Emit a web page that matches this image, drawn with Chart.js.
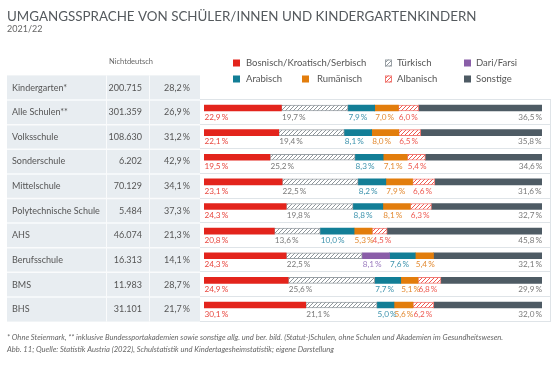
<!DOCTYPE html>
<html><head><meta charset="utf-8">
<script src="https://cdn.jsdelivr.net/npm/chart.js@4.4.1/dist/chart.umd.min.js"></script>
<style>html,body{margin:0;padding:0;background:#fff;}canvas{display:block;}</style>
</head><body>
<canvas id="c" width="560" height="366"></canvas>
<script>
// ---- data ----
const categories = ['Kindergarten*','Alle Schulen**','Volksschule','Sonderschule','Mittelschule','Polytechnische Schule','AHS','Berufsschule','BMS','BHS'];
const totals = [200715, 301359, 108630, 6202, 70129, 5484, 46074, 16313, 11983, 31101];
const nichtdeutsch = [28.2, 26.9, 31.2, 42.9, 34.1, 37.3, 21.3, 14.1, 28.7, 21.7];
const seriesNames = ['Bosnisch/Kroatisch/Serbisch','Türkisch','Dari/Farsi','Arabisch','Rumänisch','Albanisch','Sonstige'];
const bks    = [null, 22.9, 22.1, 19.5, 23.1, 24.3, 20.8, 24.3, 24.9, 30.1];
const tuerk  = [null, 19.7, 19.4, 25.2, 22.5, 19.8, 13.6, 22.5, 25.6, 21.1];
const dari   = [null, null, null, null, null, null, null, 8.1, null, null];
const arab   = [null, 7.9, 8.1, 8.3, 8.2, 8.8, 10.0, 7.6, 7.7, 5.0];
const rum    = [null, 7.0, 8.0, 7.1, 7.9, 8.1, 5.3, 5.4, 5.1, 5.6];
const alb    = [null, 6.0, 6.5, 5.4, 6.6, 6.3, 4.5, null, 6.8, 6.2];
const sonst  = [null, 36.5, 35.8, 34.6, 31.6, 32.7, 45.8, 32.1, 29.9, 32.0];
const title = 'UMGANGSSPRACHE VON SCHÜLER/INNEN UND KINDERGARTENKINDERN';
const subtitle = '2021/22';
const colHeader = 'Nichtdeutsch';
const notes = ['* Ohne Steiermark, ** inklusive Bundessportakademien sowie sonstige allg. und ber. bild. (Statut-)Schulen, ohne Schulen und Akademien im Gesundheitswesen.',
               'Abb. 11; Quelle: Statistik Austria (2022), Schulstatistik und Kindertagesheimstatistik; eigene Darstellung'];

// ---- styles ----
const FONT = 'Lato, "Open Sans", sans-serif';
const canvas = document.getElementById('c');
const ctx0 = canvas.getContext('2d');
function hatch(bg, line) {
  const c = document.createElement('canvas'); c.width = 4; c.height = 4;
  const x = c.getContext('2d');
  x.fillStyle = bg; x.fillRect(0,0,4,4);
  x.strokeStyle = line; x.lineWidth = 1;
  x.beginPath();
  x.moveTo(0,4); x.lineTo(4,0);
  x.moveTo(-1,1); x.lineTo(1,-1);
  x.moveTo(3,5); x.lineTo(5,3);
  x.stroke();
  return ctx0.createPattern(c, 'repeat');
}
const styles = [
  {bg:'#e3241c', border:'#e3241c', bw:0, text:'#e8463e'},
  {bg:hatch('#ffffff','#8f969b'), border:'#9aa1a6', bw:1, text:'#7a7a7a'},
  {bg:'#8a5ea8', border:'#8a5ea8', bw:0, text:'#9b7bbf'},
  {bg:'#127e96', border:'#127e96', bw:0, text:'#3d93ad'},
  {bg:'#e27d0c', border:'#e27d0c', bw:0, text:'#e38b33'},
  {bg:hatch('#ffffff','#ef5a52'), border:'#f07a74', bw:1, text:'#ee5a52'},
  {bg:'#4e5b64', border:'#4e5b64', bw:0, text:'#7a7a7a'}
];
const seriesData = [bks, tuerk, dari, arab, rum, alb, sonst];
// legend layout: [series index, swatch x, text x, y]
const legendLayout = [[0,233,246,63],[1,385,397,63],[2,464,476,63],[3,233,246,79],[4,302,317,79],[5,385,397,79],[6,464,476,79]];

const fmtPct = v => v.toFixed(1).replace('.', ',') + '\u2009%';
const fmtInt = n => String(n).replace(/\B(?=(\d{3})+(?!\d))/g, '.');

const ROW_SHIFT = 4.3;

const decor = {
  id: 'decor',
  beforeDatasetsDraw(chart) {
    const ctx = chart.ctx;
    const ys = chart.scales.y;
    const half = (ys.getPixelForValue(1) - ys.getPixelForValue(0)) / 2;
    ctx.save();
    // title
    ctx.fillStyle = '#555a5e';
    ctx.textBaseline = 'alphabetic';
    ctx.textAlign = 'left';
    let fs = 14;
    ctx.font = fs + 'px ' + FONT;
    fs = fs * 470 / ctx.measureText(title).width;
    ctx.font = fs + 'px ' + FONT;
    ctx.fillText(title, 7, 21);
    ctx.font = '9px ' + FONT;
    ctx.fillStyle = '#666';
    ctx.fillText(subtitle, 7, 32);
    // column header
    ctx.font = '7.5px ' + FONT;
    ctx.textAlign = 'center';
    ctx.textBaseline = 'middle';
    ctx.fillStyle = '#666';
    ctx.fillText(colHeader, 131, 62);
    // table
    const n = categories.length;
    const top0 = ys.getPixelForValue(0) - half + ROW_SHIFT;
    const botN = ys.getPixelForValue(n-1) + half + ROW_SHIFT;
    ctx.fillStyle = '#e8edf1';
    ctx.fillRect(7, top0, 193, botN - top0);
    ctx.strokeStyle = '#fafbfc';
    ctx.lineWidth = 1.5;
    for (let i = 1; i < n; i++) {
      const y = ys.getPixelForValue(i) - half + ROW_SHIFT;
      ctx.beginPath(); ctx.moveTo(7, y); ctx.lineTo(200, y); ctx.stroke();
    }
    ctx.lineWidth = 1;
    [106.5, 149.5].forEach(x => { ctx.beginPath(); ctx.moveTo(x, top0); ctx.lineTo(x, botN); ctx.stroke(); });
    // right panel
    ctx.strokeStyle = '#dfe4e8';
    ctx.lineWidth = 1;
    for (let i = 1; i <= n; i++) {
      const y = Math.round(ys.getPixelForValue(i) - half + ROW_SHIFT) - 0.5;
      ctx.beginPath(); ctx.moveTo(200, y); ctx.lineTo(551, y); ctx.stroke();
    }
    const ptop = Math.round(ys.getPixelForValue(1) - half + ROW_SHIFT) - 0.5;
    const pbot = Math.round(botN) - 0.5;
    ctx.beginPath(); ctx.moveTo(550.5, ptop); ctx.lineTo(550.5, pbot); ctx.stroke();
    // table text
    ctx.font = '9px ' + FONT;
    ctx.fillStyle = '#555';
    for (let i = 0; i < n; i++) {
      const y = ys.getPixelForValue(i) + ROW_SHIFT;
      ctx.textAlign = 'left';
      ctx.fillText(categories[i], 12, y);
      ctx.textAlign = 'right';
      ctx.fillText(fmtInt(totals[i]), 142, y);
      ctx.fillText(fmtPct(nichtdeutsch[i]), 190, y);
    }
    // legend
    ctx.font = '9.5px ' + FONT;
    ctx.textAlign = 'left';
    legendLayout.forEach(([d, sx, tx, y]) => {
      const ds = chart.data.datasets[d];
      ctx.fillStyle = ds.backgroundColor;
      ctx.fillRect(sx, y - 3.5, 7, 7);
      if (ds.borderWidth) {
        ctx.strokeStyle = ds.borderColor; ctx.lineWidth = 1;
        ctx.strokeRect(sx + 0.5, y - 3, 6, 6);
      }
      ctx.fillStyle = '#555';
      ctx.fillText(ds.label, tx, y);
    });
    // notes
    ctx.font = 'italic 7.6px ' + FONT;
    ctx.fillStyle = '#666';
    ctx.fillText(notes[0], 7, 338);
    ctx.fillText(notes[1], 7, 350);
    ctx.restore();
  },
  afterDatasetsDraw(chart) {
    const ctx = chart.ctx;
    ctx.save();
    ctx.font = '8.2px ' + FONT;
    ctx.textBaseline = 'middle';
    const last = chart.data.datasets.length - 1;
    chart.data.datasets.forEach((ds, d) => {
      const meta = chart.getDatasetMeta(d);
      ds.data.forEach((v, i) => {
        if (v === null || v === undefined) return;
        const el = meta.data[i];
        const l = Math.min(el.base, el.x), r = Math.max(el.base, el.x);
        ctx.fillStyle = styles[d].text;
        if (d === last) { ctx.textAlign = 'right'; ctx.fillText(fmtPct(v), r, el.y + 9); }
        else { ctx.textAlign = 'left'; ctx.fillText(fmtPct(v), l + 0.5, el.y + 9); }
      });
    });
    ctx.restore();
  }
};

new Chart(canvas, {
  type: 'bar',
  data: {
    labels: categories,
    datasets: seriesData.map((arr, d) => ({
      label: seriesNames[d],
      data: arr,
      backgroundColor: styles[d].bg,
      borderColor: styles[d].border,
      borderWidth: styles[d].bw,
      borderSkipped: false,
      barThickness: 6
    }))
  },
  options: {
    indexAxis: 'y',
    responsive: false,
    animation: false,
    devicePixelRatio: 1,
    layout: { padding: { left: 204, right: 18, top: 71.1, bottom: 48.7 } },
    scales: {
      x: { stacked: true, min: 0, max: 100, display: false },
      y: { stacked: true, display: false }
    },
    plugins: { legend: { display: false }, tooltip: { enabled: false } }
  },
  plugins: [decor]
});
</script>
</body></html>
